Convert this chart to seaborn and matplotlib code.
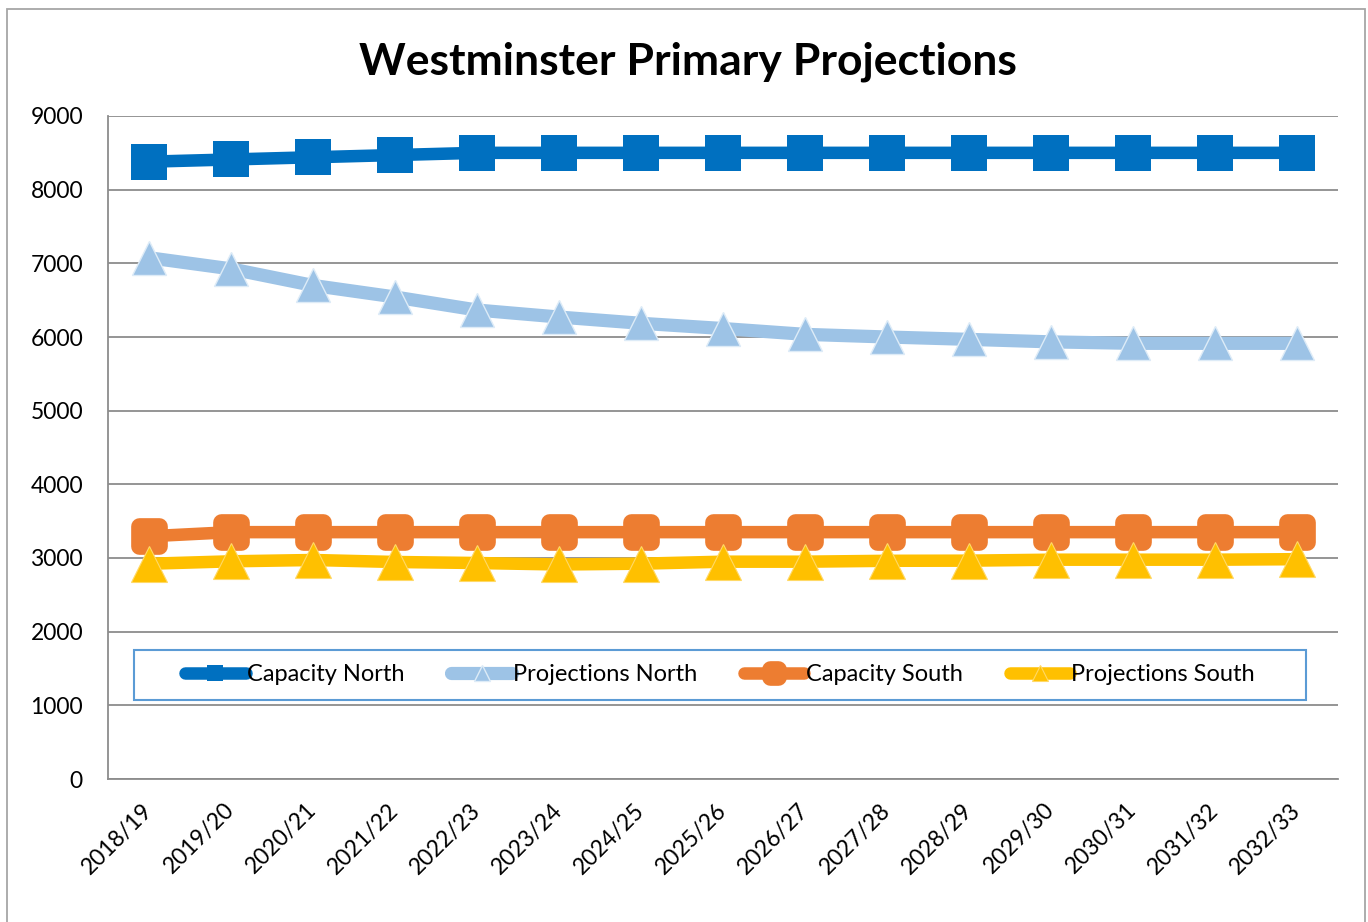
import pandas as pd
import matplotlib
matplotlib.use("Agg")
import matplotlib.pyplot as plt
from matplotlib.markers import MarkerStyle
from matplotlib.patches import Rectangle
from matplotlib.ticker import FixedLocator, NullFormatter
import seaborn as sns

# dados
anos = ["2018/19", "2019/20", "2020/21", "2021/22", "2022/23", "2023/24", "2024/25",
        "2025/26", "2026/27", "2027/28", "2028/29", "2029/30", "2030/31", "2031/32", "2032/33"]
capacity_north = [8380, 8410, 8440, 8470, 8500, 8500, 8500, 8500, 8500, 8500, 8500, 8500, 8500, 8500, 8500]
projections_north = [7076, 6925, 6700, 6543, 6366, 6271, 6186, 6115, 6036, 6000, 5968, 5934, 5914, 5914, 5914]
capacity_south = [3295, 3351, 3351, 3351, 3351, 3351, 3351, 3351, 3351, 3351, 3351, 3351, 3351, 3351, 3351]
projections_south = [2922, 2955, 2973, 2946, 2932, 2912, 2923, 2950, 2950, 2962, 2964, 2977, 2977, 2977, 2984]

df = pd.DataFrame({"ano": anos, "Capacity North": capacity_north, "Projections North": projections_north,
                   "Capacity South": capacity_south, "Projections South": projections_south})

sns.set_style("white")
plt.rcParams["font.family"] = ["Lato", "DejaVu Sans"]
plt.rcParams["text.color"] = "black"
plt.rcParams["xtick.labelcolor"] = "black"
plt.rcParams["ytick.labelcolor"] = "black"

fig = plt.figure(figsize=(13.68, 9.22), dpi=100)
ax = fig.add_axes([108 / 1368, 143 / 922, 1230 / 1368, 663 / 922])

rounded_sq = MarkerStyle("s", joinstyle="round")

sns.lineplot(data=df, x="ano", y="Capacity North", ax=ax, color="#0070C0", linewidth=9,
             marker="s", markersize=26, markeredgewidth=0, label="Capacity North", sort=False)
sns.lineplot(data=df, x="ano", y="Projections North", ax=ax, color="#9DC3E6", linewidth=9.5,
             marker="^", markersize=25, markeredgecolor="#DDEBF7", markeredgewidth=1,
             label="Projections North", sort=False)
sns.lineplot(data=df, x="ano", y="Capacity South", ax=ax, color="#ED7D31", linewidth=9,
             marker=rounded_sq, markersize=14, markeredgewidth=12, markeredgecolor="#ED7D31",
             label="Capacity South", sort=False)
sns.lineplot(data=df, x="ano", y="Projections South", ax=ax, color="#FFC000", linewidth=9,
             marker="^", markersize=26, markeredgecolor="#FFD966", markeredgewidth=0.8,
             label="Projections South", sort=False)

ax.set_xlim(-0.5, len(anos) - 0.5)
ax.set_ylim(0, 9000)
ax.set_yticks(range(0, 9001, 1000))
ax.set_xlabel("")
ax.set_ylabel("")

ax.grid(axis="y", color="#8C8C8C", linewidth=1.3)
ax.set_axisbelow(True)
for s in ["top", "right"]:
    ax.spines[s].set_visible(False)
for s in ["left", "bottom"]:
    ax.spines[s].set_color("#8C8C8C")
    ax.spines[s].set_linewidth(1.3)

ax.tick_params(axis="y", length=6, width=1.3, color="#8C8C8C", labelsize=16.5, pad=12,
               labelcolor="black")
ax.tick_params(axis="x", which="major", length=0, labelsize=16.5, pad=20, labelcolor="black")
ax.xaxis.set_minor_locator(FixedLocator([i - 0.5 for i in range(len(anos) + 1)]))
ax.xaxis.set_minor_formatter(NullFormatter())
ax.tick_params(axis="x", which="minor", length=7, width=1.3, color="#8C8C8C")
plt.setp(ax.get_xticklabels(), rotation=45, ha="right", va="center", rotation_mode="anchor")

# legenda sem moldura + retângulo azul como no Excel
leg = ax.legend(loc="center", bbox_to_anchor=(0.4976, 0.157), ncol=4, fontsize=17,
                frameon=False, markerscale=0.45, handlelength=2.55, handletextpad=0.05,
                columnspacing=2.0, labelcolor="black")
for h in leg.get_lines():
    h.set_solid_capstyle("round")
ax.add_patch(Rectangle((26 / 1230, 79 / 663), 1172 / 1230, 50 / 663, transform=ax.transAxes,
                       fill=False, edgecolor="#5B9BD5", linewidth=1.5, zorder=5))

fig.text(0.503, 1 - 62 / 922, "Westminster Primary Projections", ha="center", va="center",
         fontsize=32, fontweight="bold", color="black")

# borda externa do gráfico
fig.patches.append(Rectangle((7 / 1368, -0.05), 1358 / 1368, 1 - 9 / 922 + 0.05,
                             transform=fig.transFigure, fill=False, edgecolor="#A6A6A6",
                             linewidth=1.3))

fig.savefig("out.png", dpi=100)
